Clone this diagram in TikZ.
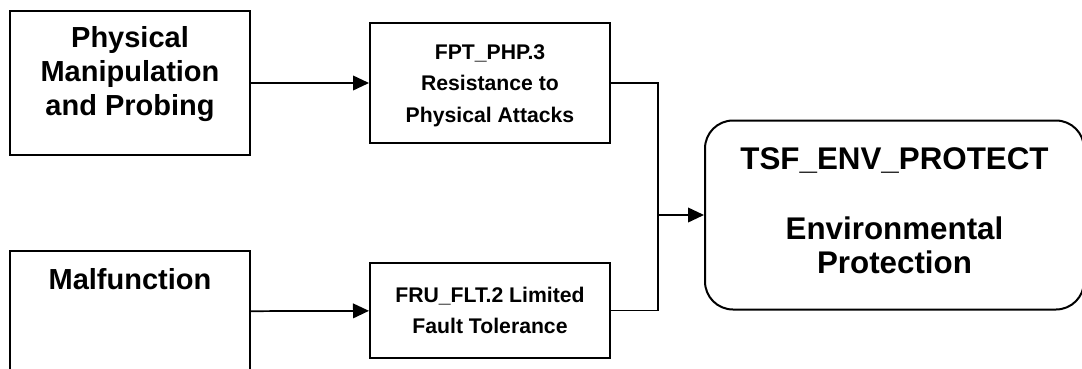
\documentclass[tikz,border=0pt]{standalone}
\usepackage{fontspec}
\setmainfont{Liberation Sans}
\usetikzlibrary{arrows.meta,positioning}

\begin{document}
\begin{tikzpicture}[x=0.75pt,y=-0.75pt,>={Triangle[length=12pt,width=11pt]},
    box/.style={draw,line width=1.5pt,minimum width=180pt,inner sep=0pt},
    bigtext/.style={font=\bfseries\fontsize{21.75}{25.5}\selectfont,align=center,inner sep=0pt},
    smalltext/.style={font=\bfseries\fontsize{15.9}{23.8}\selectfont,align=center,inner sep=0pt},
    link/.style={line width=1.3pt}]
  \useasboundingbox (0,0) rectangle (1082,368);
  % threats
  \node[box,minimum height=108pt] (phys) at (130,83) {};
  \node[bigtext,below=12.5pt of phys.north] (physlbl) {Physical\\Manipulation\\and Probing};
  \node[box,minimum height=90.75pt] (malf) at (130,311.5) {};
  \node[bigtext,below=14pt of malf.north] (malflbl) {Malfunction};
  % requirements
  \node[box,minimum height=90pt] (fpt) at (490,83) {};
  \node[smalltext] (fptlbl) at ([yshift=-2pt]fpt.center) {FPT\_PHP.3\\Resistance to\\Physical Attacks};
  \node[box,smalltext,minimum height=71.25pt] (fru) at (490,310.5) {FRU\_FLT.2 Limited\\Fault Tolerance};
  % objective
  \node[draw,line width=1.5pt,rounded corners=21pt,minimum width=284.25pt,minimum height=141.75pt] (env) at (894.5,215) {};
  \node[font=\bfseries\fontsize{23.5}{25.5}\selectfont,align=center,inner sep=0pt] (envlbl)
        at ([yshift=3pt]env.center) {TSF\_ENV\_PROTECT\\[27pt]Environmental\\Protection};
  \coordinate (merge) at (658,215);
  \draw[link,->] (phys) -- (fpt);
  \draw[link,->] (malf) -- (fru);
  \draw[link] (fpt.east) -| (merge) |- (fru.east);
  \draw[link,->] (merge) -- (env.west);
\end{tikzpicture}
\end{document}
